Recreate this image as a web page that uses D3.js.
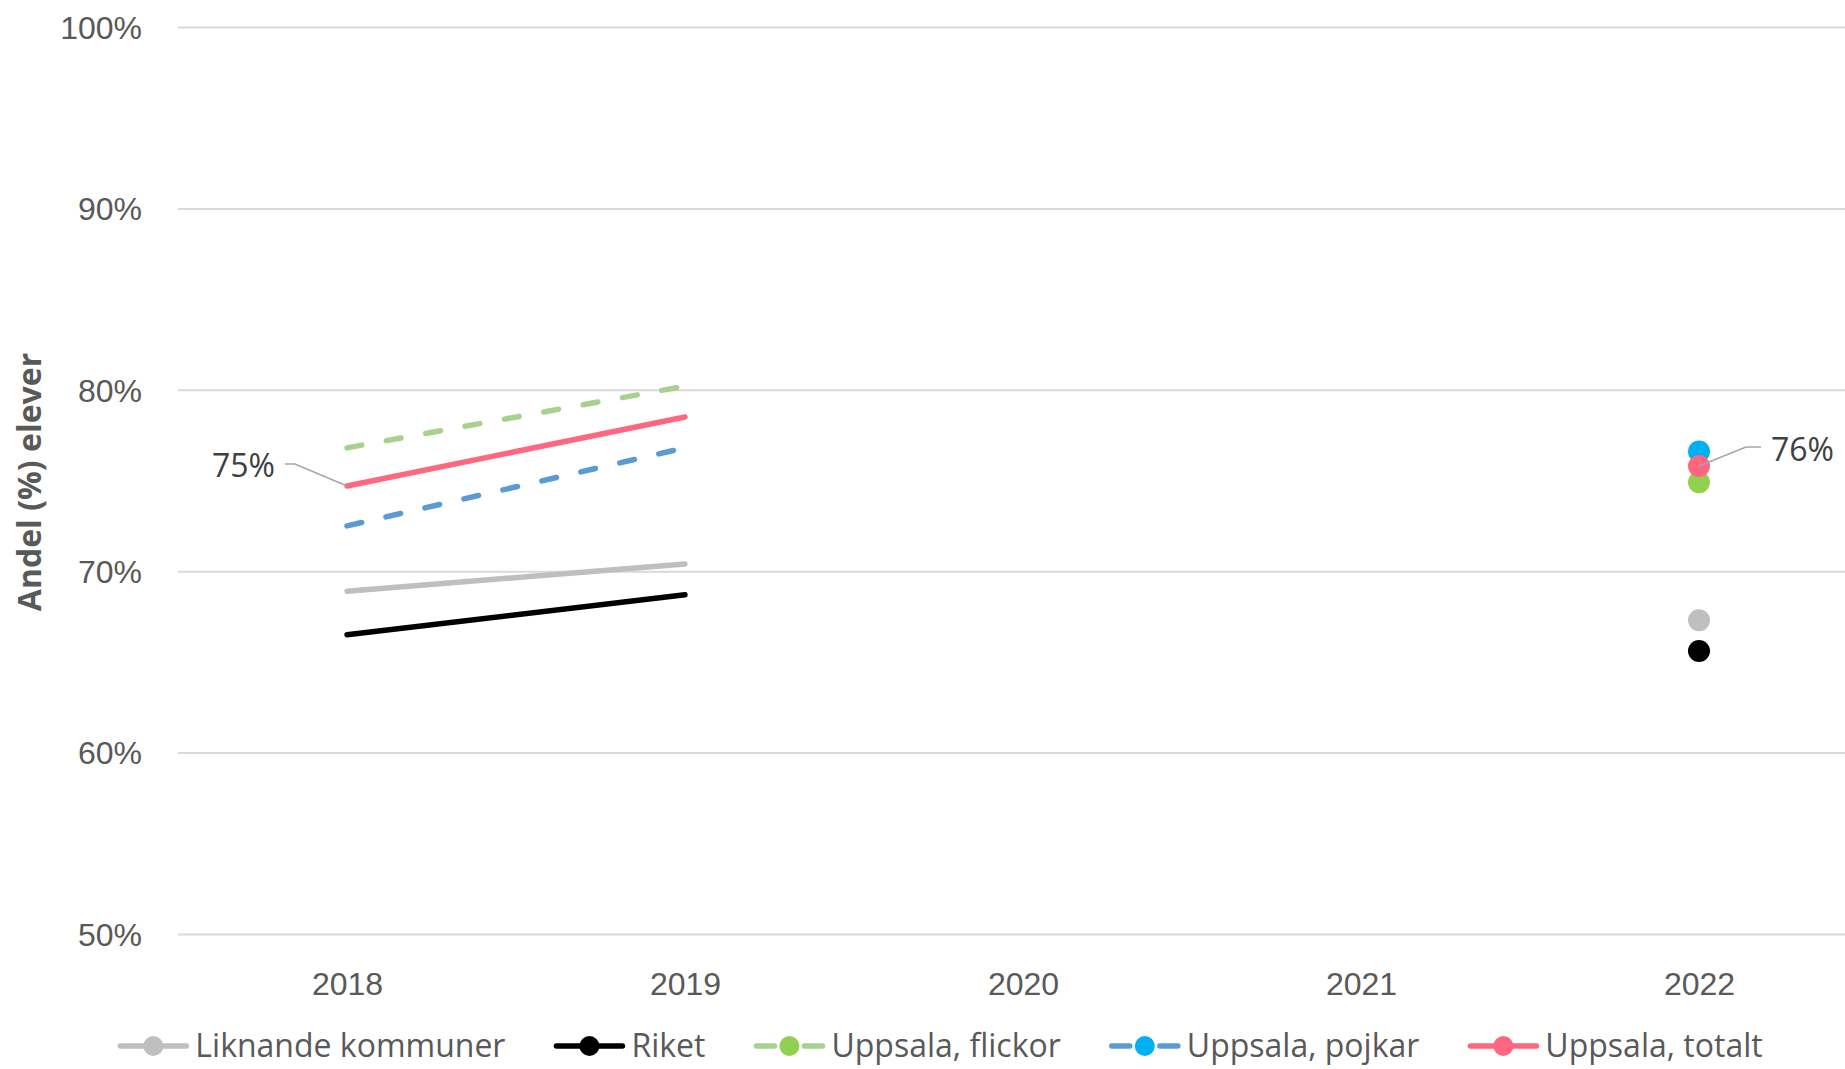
<!doctype html>
<html lang="sv">

<head>
  <title>Andel elever</title>
  <meta charset="utf-8" />
  <script src="https://cdn.jsdelivr.net/npm/d3@7"></script>
  <style>
    body { margin: 0; background: #fff; }
    svg { display: block; font-family: "Open Sans", sans-serif; }
  </style>
  <script>
    const years = ["2018", "2019", "2020", "2021", "2022"];
    const liknande = [68.9, 70.4, null, null, 67.3];
    const riket = [66.5, 68.7, null, null, 65.6];
    const flickor = [76.8, 80.2, null, null, 74.9];
    const pojkar = [72.5, 76.8, null, null, 76.6];
    const totalt = [74.7, 78.5, null, null, 75.8];
    const yTicks = [50, 60, 70, 80, 90, 100];

    window.onload = () => {
      const w = 1845;
      const h = 1069;

      const series = [
        { name: "Liknande kommuner", values: liknande, line: "#bfbfbf", marker: "#bfbfbf", dash: null },
        { name: "Riket", values: riket, line: "#000000", marker: "#000000", dash: null },
        { name: "Uppsala, flickor", values: flickor, line: "#a9d18e", marker: "#92d050", dash: "15,25" },
        { name: "Uppsala, pojkar", values: pojkar, line: "#5b9bd5", marker: "#00b0f0", dash: "15,25" },
        { name: "Uppsala, totalt", values: totalt, line: "#ff6680", marker: "#ff6680", dash: null }
      ];

      const svg = d3.select("#chart").append("svg").attr("width", w).attr("height", h);

      // the plot runs a bit past the right edge, as in the original
      const x = d3.scalePoint().domain(years).range([178, 1868]).padding(0.5);
      const y = d3.scaleLinear().domain([50, 100]).range([934, 27]);

      // grid + y labels
      const yAxis = svg.append("g")
        .attr("transform", "translate(178,0)")
        .call(d3.axisLeft(y).tickValues(yTicks).tickSize(-1700).tickPadding(36).tickFormat(d => d + "%"));
      yAxis.select(".domain").remove();
      yAxis.selectAll(".tick line").attr("stroke", "#d9d9d9").attr("stroke-width", 2);
      yAxis.selectAll(".tick text")
        .attr("fill", "#595959")
        .style("font-size", "32px")
        .attr("dy", "0.35em");

      // x labels
      const xAxis = svg.append("g")
        .attr("transform", "translate(0,934)")
        .call(d3.axisBottom(x).tickSize(0).tickPadding(38));
      xAxis.select(".domain").remove();
      xAxis.selectAll(".tick text")
        .attr("fill", "#595959")
        .style("font-size", "32px");

      svg.append("text")
        .attr("transform", "translate(41,482) rotate(-90)")
        .attr("text-anchor", "middle")
        .attr("fill", "#595959")
        .style("font-size", "32px")
        .style("font-weight", "bold")
        .text("Andel (%) elever");

      const line = d3.line()
        .defined(d => d.v != null)
        .x(d => x(d.year))
        .y(d => y(d.v));

      const pts = s => s.values.map((v, i) => ({ year: years[i], v: v }));

      svg.append("g")
        .selectAll("path")
        .data(series)
        .enter()
        .append("path")
        .attr("d", s => line(pts(s)))
        .attr("fill", "none")
        .attr("stroke", s => s.line)
        .attr("stroke-width", 5.5)
        .attr("stroke-linecap", "round")
        .attr("stroke-dasharray", s => s.dash);

      // single points (no neighbours) show as markers
      const lonely = s => pts(s).filter((d, i) =>
        d.v != null && s.values[i - 1] == null && s.values[i + 1] == null);

      series.forEach(s => {
        svg.append("g")
          .selectAll("circle")
          .data(lonely(s))
          .enter()
          .append("circle")
          .attr("cx", d => x(d.year))
          .attr("cy", d => y(d.v))
          .attr("r", 11)
          .attr("fill", s.marker);
      });

      // data labels on the total series, first and last value
      const tot = pts(series[4]);
      const first = tot[0];
      const last = tot[tot.length - 1];

      const lead = d3.line();
      svg.append("path")
        .attr("d", lead([[x(first.year) - 62, y(first.v) - 22], [x(first.year) - 52, y(first.v) - 22], [x(first.year), y(first.v)]]))
        .attr("fill", "none")
        .attr("stroke", "#a6a6a6")
        .attr("stroke-width", 1.5);
      svg.append("text")
        .attr("x", x(first.year) - 72)
        .attr("y", y(first.v) - 20)
        .attr("dy", "0.35em")
        .attr("text-anchor", "end")
        .attr("fill", "#404040")
        .style("font-size", "32px")
        .text(Math.round(first.v) + "%");

      svg.append("path")
        .attr("d", lead([[x(last.year), y(last.v)], [x(last.year) + 47, y(last.v) - 19], [x(last.year) + 62, y(last.v) - 19]]))
        .attr("fill", "none")
        .attr("stroke", "#a6a6a6")
        .attr("stroke-width", 1.5);
      svg.append("text")
        .attr("x", x(last.year) + 72)
        .attr("y", y(last.v) - 16)
        .attr("dy", "0.35em")
        .attr("fill", "#404040")
        .style("font-size", "32px")
        .text(Math.round(last.v) + "%");

      // legend, laid out left to right then centred
      const legend = svg.append("g");
      let pos = 0;
      series.forEach(s => {
        const item = legend.append("g").attr("transform", "translate(" + pos + ",0)");
        item.append("line")
          .attr("x1", 3).attr("x2", 69)
          .attr("stroke", s.line)
          .attr("stroke-width", 5.5)
          .attr("stroke-linecap", "round")
          .attr("stroke-dasharray", s.dash ? "18,30" : null);
        item.append("circle").attr("cx", 36).attr("r", 10).attr("fill", s.marker);
        const t = item.append("text")
          .attr("x", 78)
          .attr("dy", "0.35em")
          .attr("fill", "#595959")
          .style("font-size", "32px")
          .text(s.name);
        pos += 78 + t.node().getComputedTextLength() + 48;
      });
      const legendW = pos - 48;
      legend.attr("transform", "translate(" + (940 - legendW / 2) + ",1046)");
    }
  </script>
</head>

<body>
  <div id="chart"></div>
</body></html>
